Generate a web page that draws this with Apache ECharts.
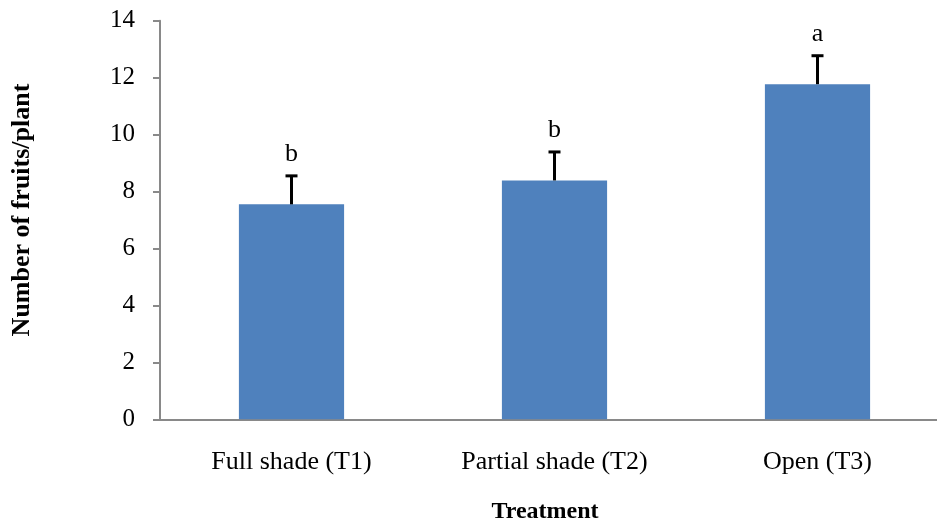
<!DOCTYPE html>
<html>
<head>
<meta charset="utf-8">
<script src="https://cdn.jsdelivr.net/npm/echarts@6/dist/echarts.min.js"></script>
<style>html,body{margin:0;padding:0;background:#fff;overflow:hidden}#c{width:949px;height:522px}</style>
</head>
<body>
<div id="c"></div>
<script>
var categories = ['Full shade (T1)', 'Partial shade (T2)', 'Open (T3)'];
var values = [7.55, 8.39, 11.77];
var errors = [1.0, 1.0, 1.0];
var letters = ['b', 'b', 'a'];
var yTicks = {min: 0, max: 14, interval: 2};

var FONT = '"Liberation Serif", "Times New Roman", serif';
var chart = echarts.init(document.getElementById('c'));

var errData = values.map(function (v, i) { return [i, v, v + errors[i], letters[i]]; });

chart.setOption({
  animation: false,
  grid: {left: 160, top: 20.7, height: 398.6, right: 0, containLabel: false},
  xAxis: {
    type: 'category',
    data: categories,
    axisTick: {show: false},
    axisLine: {lineStyle: {color: '#898989', width: 2}},
    axisLabel: {color: '#000', fontFamily: FONT, fontSize: 26, margin: 30}
  },
  yAxis: {
    type: 'value',
    min: yTicks.min, max: yTicks.max, interval: yTicks.interval,
    splitLine: {show: false},
    axisLine: {show: true, lineStyle: {color: '#898989', width: 2}},
    axisTick: {show: true, length: 7, lineStyle: {color: '#898989', width: 2}},
    axisLabel: {color: '#000', fontFamily: FONT, fontSize: 25, margin: 25}
  },
  series: [
    {
      type: 'bar',
      data: values,
      barWidth: '40%',
      itemStyle: {color: '#4F81BD'},
      z: 2
    },
    {
      type: 'custom',
      data: errData,
      z: 3,
      renderItem: function (params, api) {
        var x = api.coord([api.value(0), api.value(1)])[0];
        var yLow = api.coord([api.value(0), api.value(1)])[1];
        var yHigh = api.coord([api.value(0), api.value(2)])[1];
        var half = 6;
        return {
          type: 'group',
          children: [
            {type: 'line', shape: {x1: x, y1: yLow, x2: x, y2: yHigh}, style: {stroke: '#000', lineWidth: 3}},
            {type: 'line', shape: {x1: x - half, y1: yHigh, x2: x + half, y2: yHigh}, style: {stroke: '#000', lineWidth: 3}},
            {type: 'text', x: x, y: yHigh - 22, style: {text: letters[params.dataIndex], font: '26px ' + FONT, fill: '#000', align: 'center', verticalAlign: 'middle'}}
          ]
        };
      }
    }
  ],
  graphic: [
    {type: 'text', x: 545, y: 512, style: {text: 'Treatment', font: 'bold 24px ' + FONT, fill: '#000', align: 'center', verticalAlign: 'middle'}},
    {type: 'text', x: 22, y: 210, rotation: Math.PI / 2, style: {text: 'Number of fruits/plant', font: 'bold 26px ' + FONT, fill: '#000', align: 'center', verticalAlign: 'middle'}}
  ]
});
</script>
</body>
</html>
